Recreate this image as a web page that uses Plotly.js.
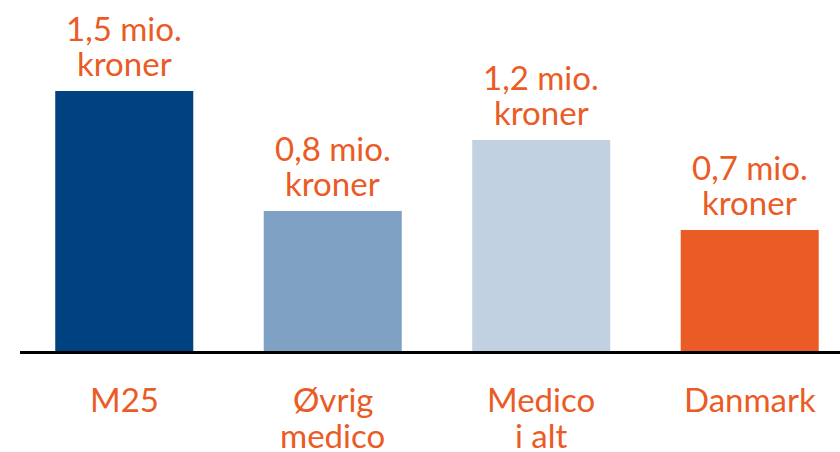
<!DOCTYPE html>
<html><head><meta charset="utf-8">
<script src="https://cdn.plot.ly/plotly-3.0.1.min.js"></script>
<style>body{margin:0;background:#fff}#c{width:840px;height:452px}</style>
</head><body><div id="c"></div>
<script>
const categories = ["M25", "Øvrig<br>medico", "Medico<br>i alt", "Danmark"];
const values = [1.5, 0.808, 1.218, 0.698];
const valueLabels = ["1,5 mio.<br>kroner", "0,8 mio.<br>kroner", "1,2 mio.<br>kroner", "0,7 mio.<br>kroner"];
const barColors = ["#00417F", "#7FA1C4", "#C1D1E2", "#EA5B25"];
const orange = "#EA5B25";
const idx = categories.map((_, i) => i);

const FS = 33, LINE = 35;
const lblFont = {family: "Lato, sans-serif", size: FS, color: orange};
const annotations = [];
idx.forEach(i => {
  const top = valueLabels[i].split("<br>");
  top.forEach((t, k) => {
    annotations.push({
      x: i, y: values[i], xref: "x", yref: "y",
      text: t, showarrow: false, font: lblFont,
      xanchor: "center", yanchor: "middle",
      yshift: 28 + (top.length - 1 - k) * LINE
    });
  });
  const bot = categories[i].split("<br>");
  bot.forEach((t, k) => {
    annotations.push({
      x: i, y: 0, xref: "x", yref: "y",
      text: t, showarrow: false, font: lblFont,
      xanchor: "center", yanchor: "middle",
      yshift: -(48 + k * (LINE + 1))
    });
  });
});

Plotly.newPlot("c", [{
  type: "bar",
  x: idx,
  y: values,
  width: 0.662,
  marker: {color: barColors, line: {width: 0}},
  hoverinfo: "none"
}], {
  width: 840, height: 452,
  margin: {l: 20, r: 0, t: 0, b: 101},
  paper_bgcolor: "#fff", plot_bgcolor: "#fff",
  showlegend: false,
  font: {family: "Lato, sans-serif", color: orange},
  xaxis: {
    range: [-0.5, 3.433],
    tickvals: idx, showticklabels: false,
    showline: true, linecolor: "#000", linewidth: 2.5,
    ticks: "", showgrid: false, zeroline: false
  },
  yaxis: {range: [0, 2.025], visible: false, showgrid: false, zeroline: false},
  annotations: annotations
}, {staticPlot: true});
</script>
</body></html>
